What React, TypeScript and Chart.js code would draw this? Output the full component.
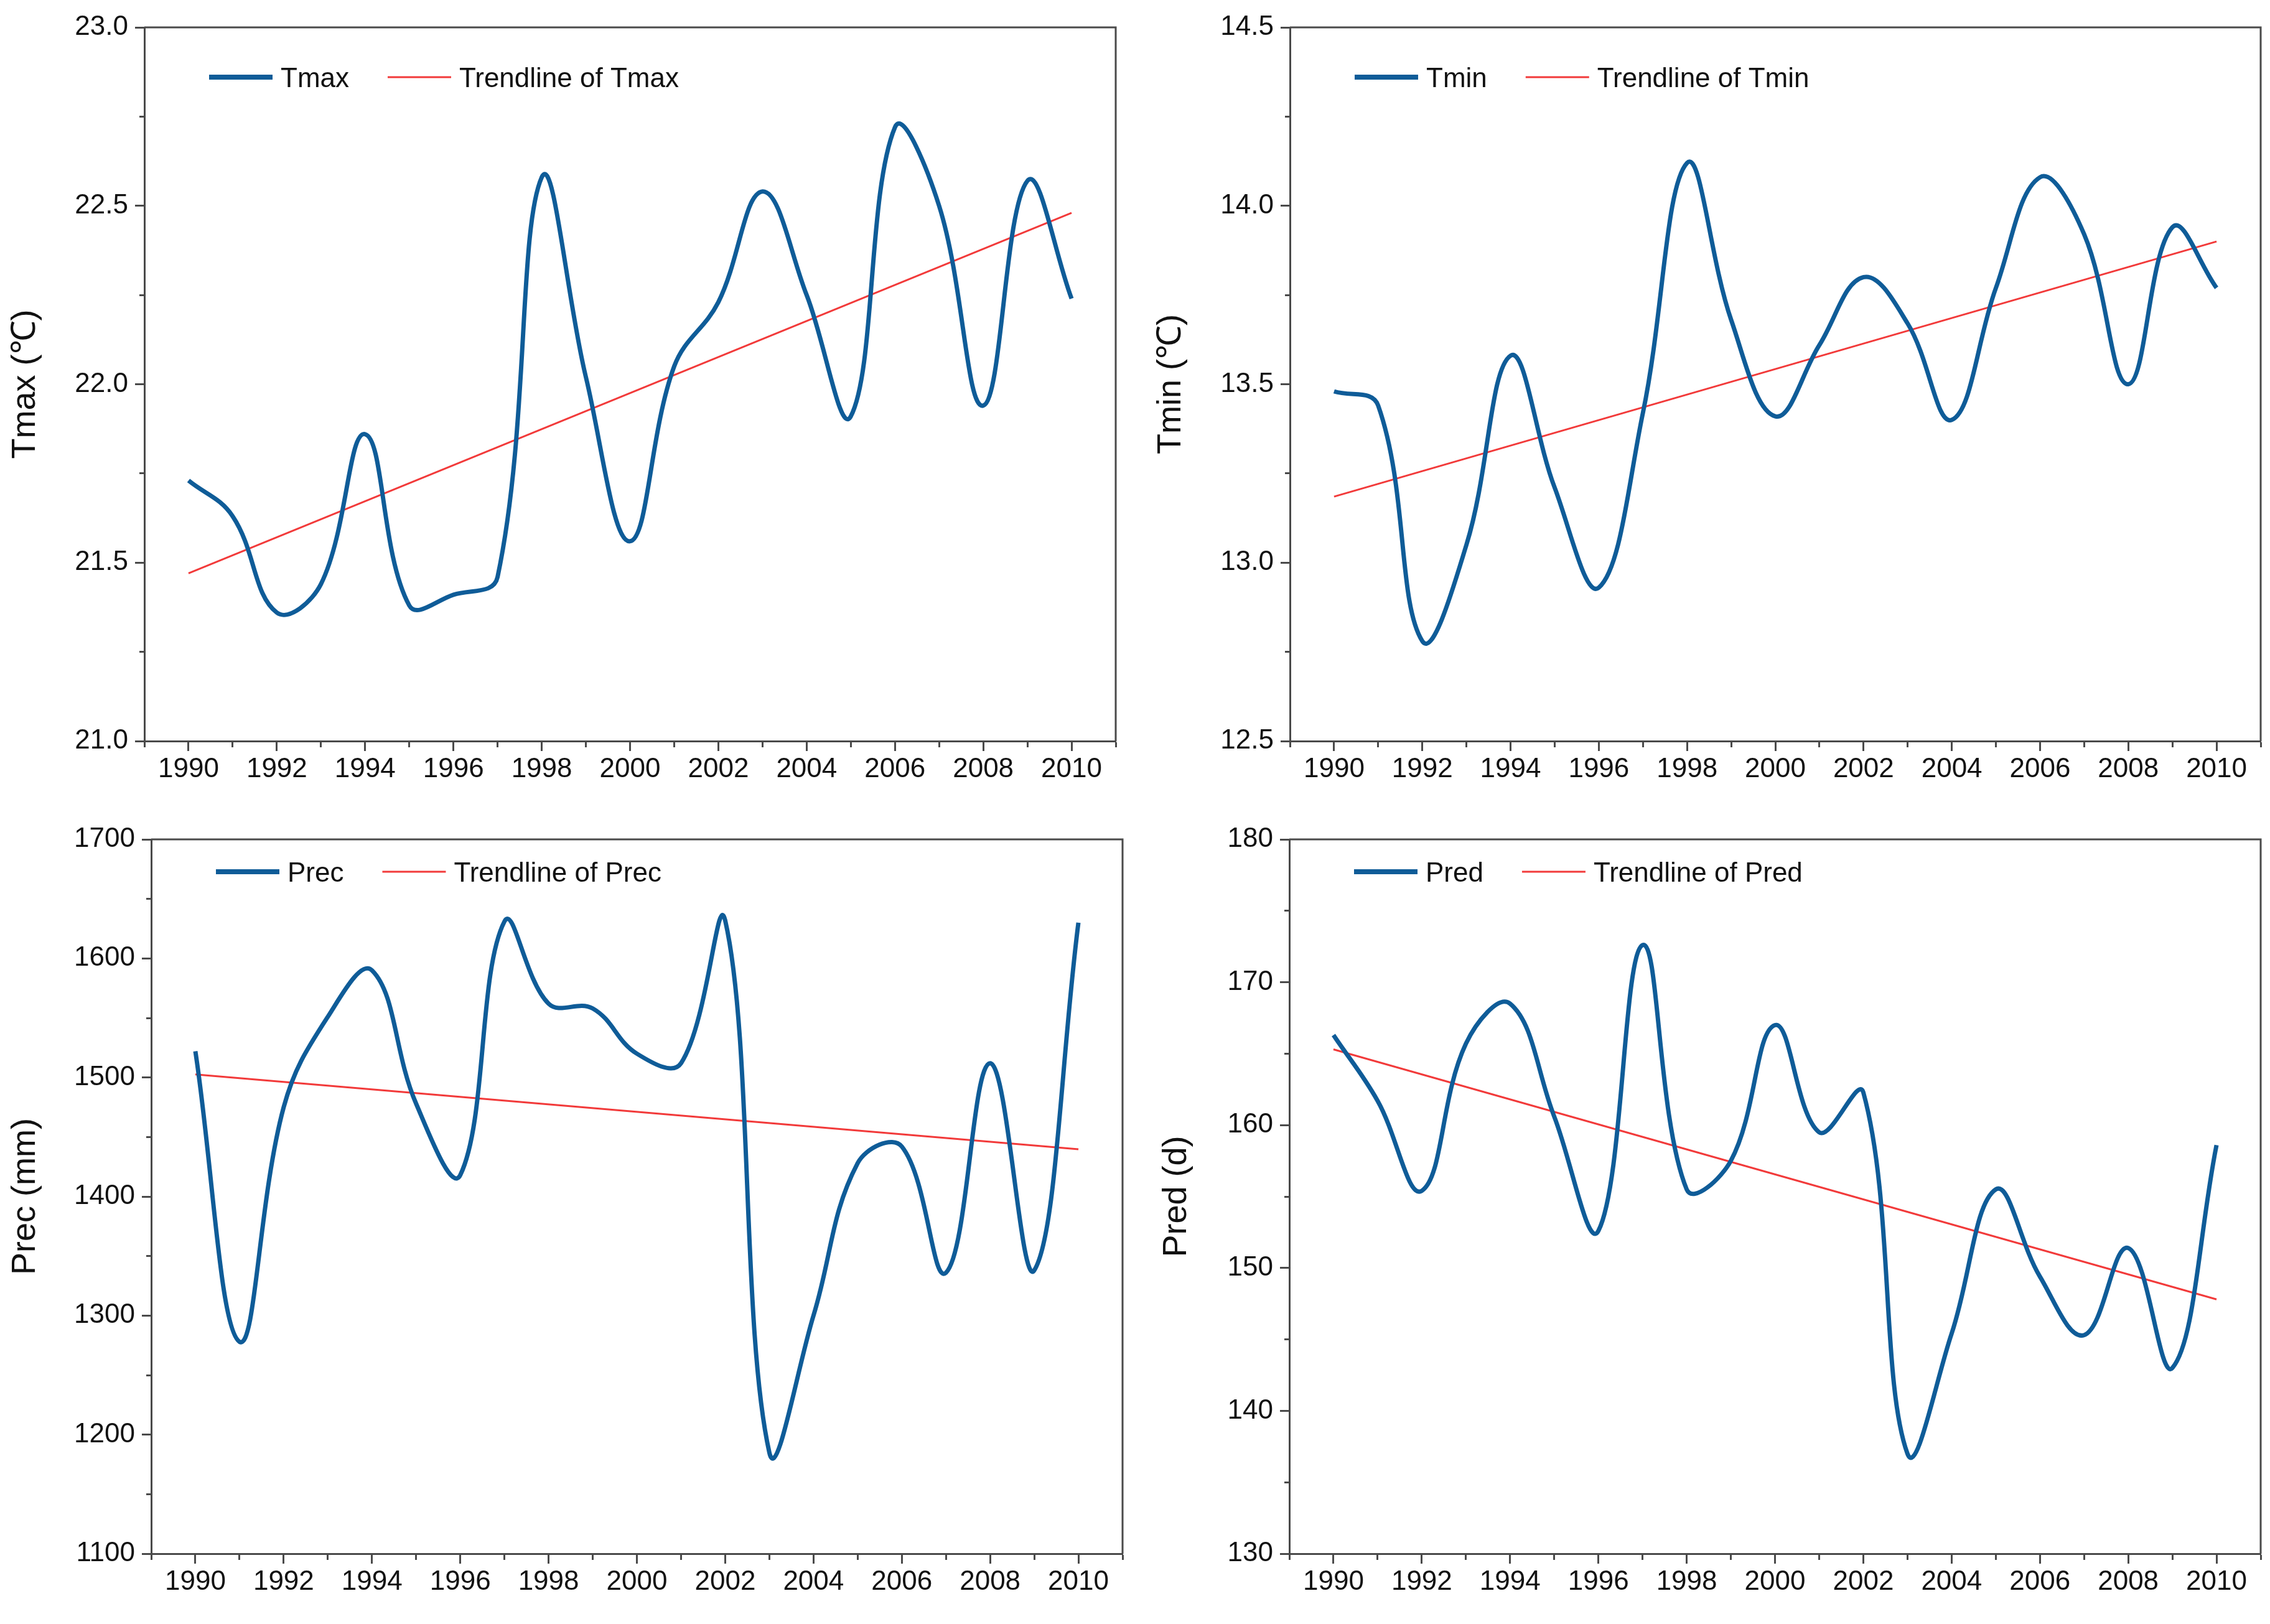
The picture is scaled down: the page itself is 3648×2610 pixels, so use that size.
import { useEffect, useRef } from 'react';
import { Chart, registerables } from 'chart.js';

Chart.register(...registerables);

// ---------------- data ----------------
const years = [1990, 1991, 1992, 1993, 1994, 1995, 1996, 1997, 1998, 1999, 2000, 2001, 2002, 2003, 2004, 2005, 2006, 2007, 2008, 2009, 2010];

const tmax = [21.73, 21.63, 21.36, 21.44, 21.86, 21.38, 21.41, 21.46, 22.58, 22.02, 21.56, 22.05, 22.23, 22.54, 22.25, 21.91, 22.72, 22.50, 21.94, 22.57, 22.24];
const tmin = [13.48, 13.44, 12.78, 13.05, 13.58, 13.21, 12.93, 13.42, 14.12, 13.68, 13.41, 13.61, 13.80, 13.67, 13.40, 13.77, 14.08, 13.92, 13.50, 13.94, 13.77];
const prec = [1522, 1278, 1475, 1551, 1590, 1478, 1418, 1631, 1562, 1558, 1520, 1512, 1632, 1185, 1300, 1428, 1442, 1336, 1512, 1338, 1630];
const pred = [166.3, 161.7, 155.4, 165.7, 168.5, 160.6, 152.6, 172.6, 155.5, 157.5, 167.0, 159.5, 162.3, 137.0, 145.4, 155.5, 149.4, 145.3, 151.4, 143.0, 158.6];

const trendYears = [1990, 2010];
const tmaxTrend = [21.47, 22.48];
const tminTrend = [13.185, 13.90];
const precTrend = [1502.6, 1439.7];
const predTrend = [165.3, 147.8];

const xTickLabels = ['1990', '1992', '1994', '1996', '1998', '2000', '2002', '2004', '2006', '2008', '2010'];
const tmaxTickLabels = ['21.0', '21.5', '22.0', '22.5', '23.0'];
const tminTickLabels = ['12.5', '13.0', '13.5', '14.0', '14.5'];
const precTickLabels = ['1100', '1200', '1300', '1400', '1500', '1600', '1700'];
const predTickLabels = ['130', '140', '150', '160', '170', '180'];

// ---------------- styles / layout ----------------
const FONT = "'Liberation Sans', Arial, Helvetica, sans-serif";
const BLUE = '#0f5c98';
const RED = '#f23a3a';
const AXIS = '#4a4a4a';

type Panel = {
  name: string;
  title: string;
  values: number[];
  trend: number[];
  yMin: number;
  yMax: number;
  yStep: number;
  yLabels: string[];
  box: { left: number; top: number; w: number; h: number };
  area: { l: number; t: number; r: number; b: number };
  titlePad: number;
  legendY: number;
};

const panels: Panel[] = [
  {
    name: 'Tmax', title: 'Tmax (℃)', values: tmax, trend: tmaxTrend,
    yMin: 21, yMax: 23, yStep: 0.25, yLabels: tmaxTickLabels,
    box: { left: 0, top: 0, w: 1824, h: 1300 }, area: { l: 232, t: 44, r: 1793, b: 1191 },
    titlePad: 9, legendY: 80,
  },
  {
    name: 'Tmin', title: 'Tmin (℃)', values: tmin, trend: tminTrend,
    yMin: 12.5, yMax: 14.5, yStep: 0.25, yLabels: tminTickLabels,
    box: { left: 1824, top: 0, w: 1824, h: 1300 }, area: { l: 249, t: 44, r: 1809, b: 1191 },
    titlePad: 26, legendY: 80,
  },
  {
    name: 'Prec', title: 'Prec (mm)', values: prec, trend: precTrend,
    yMin: 1100, yMax: 1700, yStep: 50, yLabels: precTickLabels,
    box: { left: 0, top: 1300, w: 1824, h: 1310 }, area: { l: 243, t: 49, r: 1804, b: 1197 },
    titlePad: 9, legendY: 52,
  },
  {
    name: 'Pred', title: 'Pred (d)', values: pred, trend: predTrend,
    yMin: 130, yMax: 180, yStep: 5, yLabels: predTickLabels,
    box: { left: 1824, top: 1300, w: 1824, h: 1310 }, area: { l: 248, t: 49, r: 1809, b: 1197 },
    titlePad: 35, legendY: 52,
  },
];

const frameAndLegend = {
  id: 'frameAndLegend',
  afterDraw(chart: any, _args: any, opts: any) {
    const { ctx, chartArea } = chart;
    ctx.save();
    // top and right frame lines
    ctx.strokeStyle = AXIS;
    ctx.lineWidth = 3;
    ctx.beginPath();
    ctx.moveTo(chartArea.left, chartArea.top);
    ctx.lineTo(chartArea.right, chartArea.top);
    ctx.lineTo(chartArea.right, chartArea.bottom);
    ctx.stroke();

    // legend inside the plot
    ctx.font = `44px ${FONT}`;
    ctx.textBaseline = 'middle';
    ctx.textAlign = 'left';
    let x = chartArea.left + 104;
    const ly = chartArea.top + (opts.legendY || 80);
    const ty = ly + 4;
    chart.data.datasets.forEach((ds: any, i: number) => {
      ctx.strokeStyle = ds.borderColor;
      ctx.lineWidth = i === 0 ? 8 : 3;
      ctx.beginPath();
      ctx.moveTo(x, ly);
      ctx.lineTo(x + 102, ly);
      ctx.stroke();
      x += 102 + 13;
      ctx.fillStyle = '#111';
      ctx.fillText(ds.label, x, ty);
      x += ctx.measureText(ds.label).width + 62;
    });
    ctx.restore();
  },
};

function isMajor(value: number, labels: string[]) {
  return labels.some((s) => Math.abs(parseFloat(s) - value) < 1e-6);
}

function labelFor(value: number, labels: string[]) {
  const f = labels.find((s) => Math.abs(parseFloat(s) - value) < 1e-6);
  return f === undefined ? '' : f;
}

function PanelChart({ p }: { p: Panel }) {
  const ref = useRef<HTMLCanvasElement | null>(null);
  useEffect(() => {
    if (!ref.current) return;
    const series = years.map((y, i) => ({ x: y, y: p.values[i] }));
    const trendLine = trendYears.map((y, i) => ({ x: y, y: p.trend[i] }));
    const yTL = 15;
    const xTL = 16;
    const minorLen = 8;
    const chart = new Chart(ref.current, {
      type: 'line',
      data: {
        datasets: [
          {
            label: p.name,
            data: series,
            borderColor: BLUE,
            backgroundColor: BLUE,
            borderWidth: 7,
            pointRadius: 0,
            tension: 0.4,
            fill: false,
          },
          {
            label: 'Trendline of ' + p.name,
            data: trendLine,
            borderColor: RED,
            backgroundColor: RED,
            borderWidth: 3,
            pointRadius: 0,
            tension: 0,
            fill: false,
          },
        ],
      },
      plugins: [frameAndLegend],
      options: {
        responsive: false,
        animation: false,
        events: [],
        layout: {
          padding: { left: 0, bottom: 0, top: p.area.t, right: p.box.w - p.area.r },
        },
        plugins: {
          legend: { display: false },
          tooltip: { enabled: false },
          frameAndLegend: { legendY: p.legendY },
        } as any,
        scales: {
          x: {
            type: 'linear',
            min: 1989,
            max: 2011,
            afterFit: (s: any) => { s.height = p.box.h - p.area.b; },
            border: { display: true, color: AXIS, width: 3 },
            grid: {
              drawOnChartArea: false,
              drawTicks: true,
              tickLength: xTL,
              tickColor: AXIS,
              tickWidth: 3,
              tickBorderDash: (c: any) => (c.tick && isMajor(c.tick.value, xTickLabels) ? [] : [minorLen, 200]),
              tickBorderDashOffset: 0,
            },
            ticks: {
              stepSize: 1,
              autoSkip: false,
              maxRotation: 0,
              minRotation: 0,
              padding: 3,
              color: '#111',
              font: { family: FONT, size: 44 },
              callback: (v: any) => labelFor(Number(v), xTickLabels),
            },
          },
          y: {
            type: 'linear',
            min: p.yMin,
            max: p.yMax,
            afterFit: (s: any) => { s.width = p.area.l; },
            border: { display: true, color: AXIS, width: 3 },
            grid: {
              drawOnChartArea: false,
              drawTicks: true,
              tickLength: yTL,
              tickColor: AXIS,
              tickWidth: 3,
              tickBorderDash: (c: any) => (c.tick && isMajor(c.tick.value, p.yLabels) ? [] : [minorLen, yTL]),
              tickBorderDashOffset: (c: any) => (c.tick && isMajor(c.tick.value, p.yLabels) ? 0 : 2 * minorLen),
            },
            ticks: {
              stepSize: p.yStep,
              autoSkip: false,
              padding: 11,
              color: '#111',
              font: { family: FONT, size: 44 },
              callback: (v: any) => labelFor(Number(v), p.yLabels),
            },
            title: {
              display: true,
              text: p.title,
              color: '#111',
              font: { family: FONT, size: 54 },
              padding: { top: p.titlePad, bottom: 0 },
            },
          },
        },
      } as any,
    });
    return () => chart.destroy();
  }, [p]);
  return (
    <canvas
      ref={ref}
      width={p.box.w}
      height={p.box.h}
      style={{ position: 'absolute', left: p.box.left, top: p.box.top, width: p.box.w, height: p.box.h }}
    />
  );
}

export default function App() {
  return (
    <div
      style={{
        position: 'absolute',
        left: 0,
        top: 0,
        width: 3648,
        height: 2610,
        background: '#ffffff',
        overflow: 'hidden',
      }}
    >
      {panels.map((p) => (
        <PanelChart key={p.name} p={p} />
      ))}
    </div>
  );
}
